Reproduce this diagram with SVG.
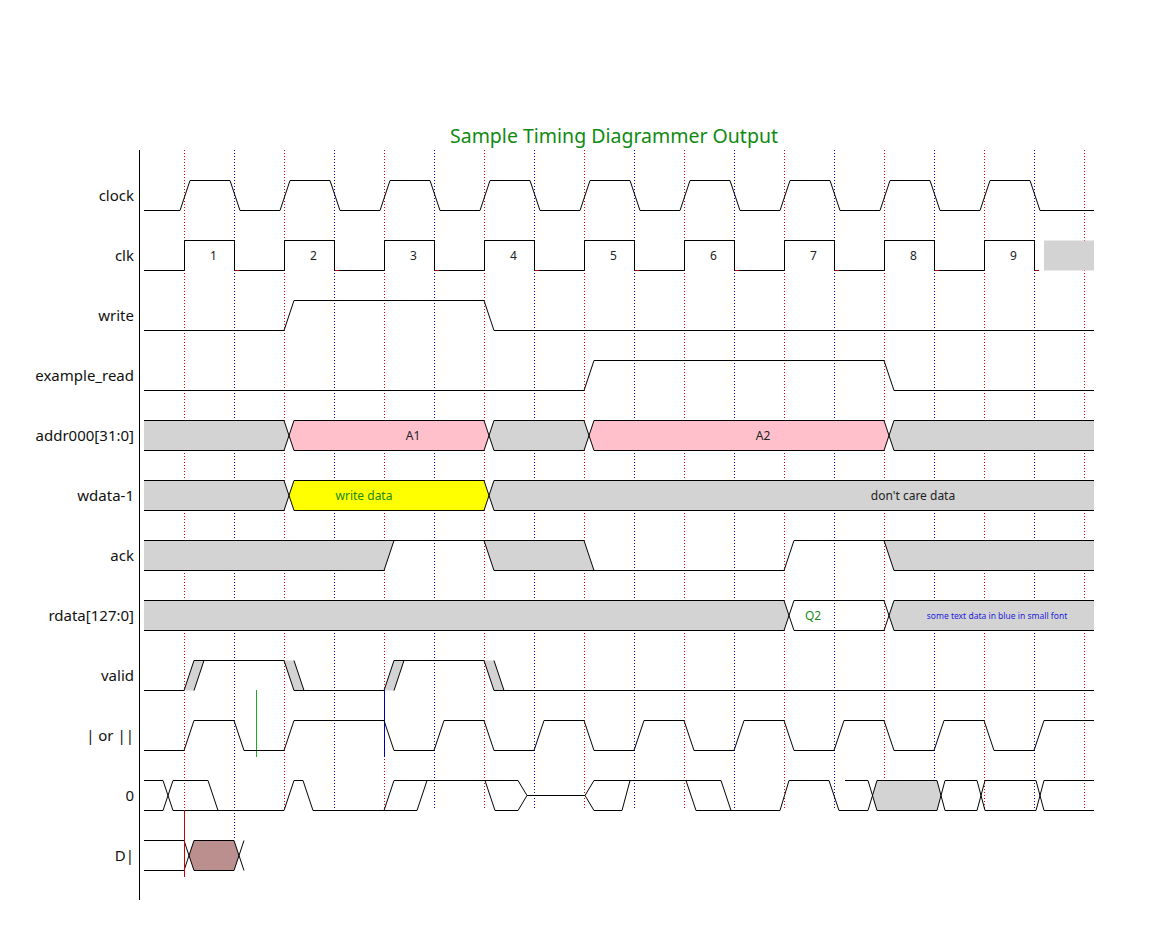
<svg xmlns="http://www.w3.org/2000/svg" width="1171" height="952" viewBox="0 0 1171 952">
<style>
.bg{fill:#fff}
.lbl{font-family:"Noto Sans","DejaVu Sans",sans-serif;font-size:15px;fill:#111;text-anchor:end}
.cell{font-family:"Noto Sans","DejaVu Sans",sans-serif;font-size:12px;fill:#222;text-anchor:middle}
.title{font-family:"Noto Sans","DejaVu Sans",sans-serif;font-size:19.5px;fill:#108a10;text-anchor:middle}
.w{fill:none;stroke:#000;stroke-width:1}
.gray{fill:#d3d3d3;stroke:none}
.gridr{stroke:#e00000;stroke-width:1;stroke-dasharray:1 2;fill:none}
.gridb{stroke:#0000c0;stroke-width:1;stroke-dasharray:1 2;fill:none}
</style>
<rect class="bg" x="0" y="0" width="1171" height="952"/>
<text class="title" x="614" y="143">Sample Timing Diagrammer Output</text>
<g id="grid">
<path class="gridr" d="M184.5,150V810 M284.5,150V810 M384.5,150V810 M484.5,150V810 M584.5,150V810 M684.5,150V810 M784.5,150V810 M884.5,150V810 M984.5,150V810 M1084.5,150V810"/>
<path class="gridb" d="M234.5,150V840 M334.5,150V810 M434.5,150V810 M534.5,150V810 M634.5,150V810 M734.5,150V810 M834.5,150V810 M934.5,150V810 M1034.5,150V810"/>
<path d="M139.5,150V900" stroke="#000" stroke-width="1"/>
</g>
<g id="clock">
<text class="lbl" x="134" y="201">clock</text>
<path class="w" d="M144,210.5H180L190,180.5H230L240,210.5H280L290,180.5H330L340,210.5H380L390,180.5H430L440,210.5H480L490,180.5H530L540,210.5H580L590,180.5H630L640,210.5H680L690,180.5H730L740,210.5H780L790,180.5H830L840,210.5H880L890,180.5H930L940,210.5H980L990,180.5H1030L1040,210.5H1094"/>
</g>
<g id="clk">
<text class="lbl" x="134" y="261">clk</text>
<rect class="gray" x="1044" y="240.5" width="50" height="30"/>
<path class="w" d="M144,270.5H184.5V240.5H234.5V270.5H284.5V240.5H334.5V270.5H384.5V240.5H434.5V270.5H484.5V240.5H534.5V270.5H584.5V240.5H634.5V270.5H684.5V240.5H734.5V270.5H784.5V240.5H834.5V270.5H884.5V240.5H934.5V270.5H984.5V240.5H1034.5V270.5"/>
<path d="M235,270.5h4M335,270.5h4M435,270.5h4M535,270.5h4M635,270.5h4M735,270.5h4M835,270.5h4M935,270.5h4M1035,270.5h4" stroke="#c00000" stroke-width="1"/>
<text class="cell" x="213.5" y="260">1</text>
<text class="cell" x="313.5" y="260">2</text>
<text class="cell" x="413.5" y="260">3</text>
<text class="cell" x="513.5" y="260">4</text>
<text class="cell" x="613.5" y="260">5</text>
<text class="cell" x="713.5" y="260">6</text>
<text class="cell" x="813.5" y="260">7</text>
<text class="cell" x="913.5" y="260">8</text>
<text class="cell" x="1013.5" y="260">9</text>
</g>
<g id="write">
<text class="lbl" x="134" y="321">write</text>
<path class="w" d="M144,330.5H284L294,300.5H484L494,330.5H1094"/>
</g>
<g id="example_read">
<text class="lbl" x="134" y="381">example_read</text>
<path class="w" d="M144,390.5H584L594,360.5H884L894,390.5H1094"/>
</g>
<g id="addr">
<text class="lbl" x="134" y="441">addr000[31:0]</text>
<polygon class="gray" points="144,420.5 284,420.5 289,435.5 284,450.5 144,450.5"/>
<polygon fill="#ffc0cb" points="294,420.5 484,420.5 489,435.5 484,450.5 294,450.5 289,435.5"/>
<polygon class="gray" points="494,420.5 584,420.5 589,435.5 584,450.5 494,450.5 489,435.5"/>
<polygon fill="#ffc0cb" points="594,420.5 884,420.5 889,435.5 884,450.5 594,450.5 589,435.5"/>
<polygon class="gray" points="894,420.5 1094,420.5 1094,450.5 894,450.5 889,435.5"/>
<path class="w" d="M144,420.5H284L294,450.5H484L494,420.5H584L594,450.5H884L894,420.5H1094M144,450.5H284L294,420.5H484L494,450.5H584L594,420.5H884L894,450.5H1094"/>
<text class="cell" x="413" y="440">A1</text>
<text class="cell" x="763" y="440">A2</text>
</g>
<g id="wdata">
<text class="lbl" x="134" y="501">wdata-1</text>
<polygon class="gray" points="144,480.5 284,480.5 289,495.5 284,510.5 144,510.5"/>
<polygon fill="#ffff00" points="294,480.5 484,480.5 489,495.5 484,510.5 294,510.5 289,495.5"/>
<polygon class="gray" points="494,480.5 1094,480.5 1094,510.5 494,510.5 489,495.5"/>
<path class="w" d="M144,480.5H284L294,510.5H484L494,480.5H1094M144,510.5H284L294,480.5H484L494,510.5H1094"/>
<text class="cell" x="364" y="500" style="fill:#1a8a1a">write data</text>
<text class="cell" x="913" y="500">don't care data</text>
</g>
<g id="ack">
<text class="lbl" x="134" y="561">ack</text>
<polygon class="gray" points="144,540.5 394,540.5 384,570.5 144,570.5"/>
<polygon class="gray" points="484,540.5 584,540.5 594,570.5 494,570.5"/>
<polygon class="gray" points="884,540.5 1094,540.5 1094,570.5 894,570.5"/>
<path class="w" d="M144,540.5H584L594,570.5H784L794,540.5H1094M144,570.5H384L394,540.5M484,540.5L494,570.5H594M884,540.5L894,570.5H1094"/>
</g>
<g id="rdata">
<text class="lbl" x="134" y="621">rdata[127:0]</text>
<polygon class="gray" points="144,600.5 784,600.5 789,615.5 784,630.5 144,630.5"/>
<polygon class="gray" points="894,600.5 1094,600.5 1094,630.5 894,630.5 889,615.5"/>
<path class="w" d="M144,600.5H784L794,630.5H884L894,600.5H1094M144,630.5H784L794,600.5H884L894,630.5H1094"/>
<text class="cell" x="813" y="620" style="fill:#1a8a1a">Q2</text>
<text class="cell" x="997" y="619" style="fill:#2222dd;font-size:8.5px">some text data in blue in small font</text>
</g>
<g id="valid">
<text class="lbl" x="134" y="681">valid</text>
<polygon class="gray" points="184,690.5 194,660.5 204,660.5 194,690.5"/>
<polygon class="gray" points="284,660.5 294,660.5 304,690.5 294,690.5"/>
<polygon class="gray" points="384,690.5 394,660.5 404,660.5 394,690.5"/>
<polygon class="gray" points="484,660.5 494,660.5 504,690.5 494,690.5"/>
<path class="w" d="M144,690.5H184L194,660.5H284L294,690.5H384L394,660.5H484L494,690.5H1094M194,690.5L204,660.5M294,660.5L304,690.5M394,690.5L404,660.5M494,660.5L504,690.5"/>
<path d="M256.5,690V757" stroke="#22aa22" stroke-width="1"/>
<path d="M384.5,690V757" stroke="#0000b0" stroke-width="1"/>
</g>
<g id="or">
<text class="lbl" x="134" y="741">| or ||</text>
<path class="w" d="M144,750.5H184L194,720.5H234L244,750.5H284L294,720.5H384L394,750.5H434L444,720.5H484L494,750.5H534L544,720.5H584L594,750.5H634L644,720.5H684L694,750.5H734L744,720.5H784L794,750.5H834L844,720.5H884L894,750.5H934L944,720.5H984L994,750.5H1034L1044,720.5H1094"/>
</g>
<g id="zero">
<text class="lbl" x="134" y="801">0</text>
<polygon class="gray" points="872.5,795.5 877,780.5 937,780.5 941,795.5 937,810.5 877,810.5"/>
<path class="w" d="M144,780.5H163L173,810.5H284L294,780.5H303L313,810.5H384L394,780.5H485L495,810.5H518L527,795.5H585L594,780.5H686L696,810.5H780L789,780.5H829L839,810.5H868L877,780.5H937L945,810.5H977L985,780.5H1036L1044,810.5H1094"/>
<path class="w" d="M144,810.5H163L173,780.5H208L218,810.5M384,810.5H417L427,780.5M485,780.5H518L527,795.5M585,795.5L594,810.5H622L630,780.5M686,780.5H721L731,810.5M845,780.5H868L877,810.5H937L945,780.5H977L985,810.5H1036L1044,780.5H1094"/>
</g>
<g id="d">
<text class="lbl" x="134" y="861">D|</text>
<polygon fill="#bc8f8f" points="189,855.5 194,840.5 234,840.5 239,855.5 234,870.5 194,870.5"/>
<path class="w" d="M144,840.5H184L194,870.5H234L244,840.5M144,870.5H184L194,840.5H234L244,870.5"/>
<path d="M184.5,810V877" stroke="#cc0000" stroke-width="1"/>
</g>
</svg>
